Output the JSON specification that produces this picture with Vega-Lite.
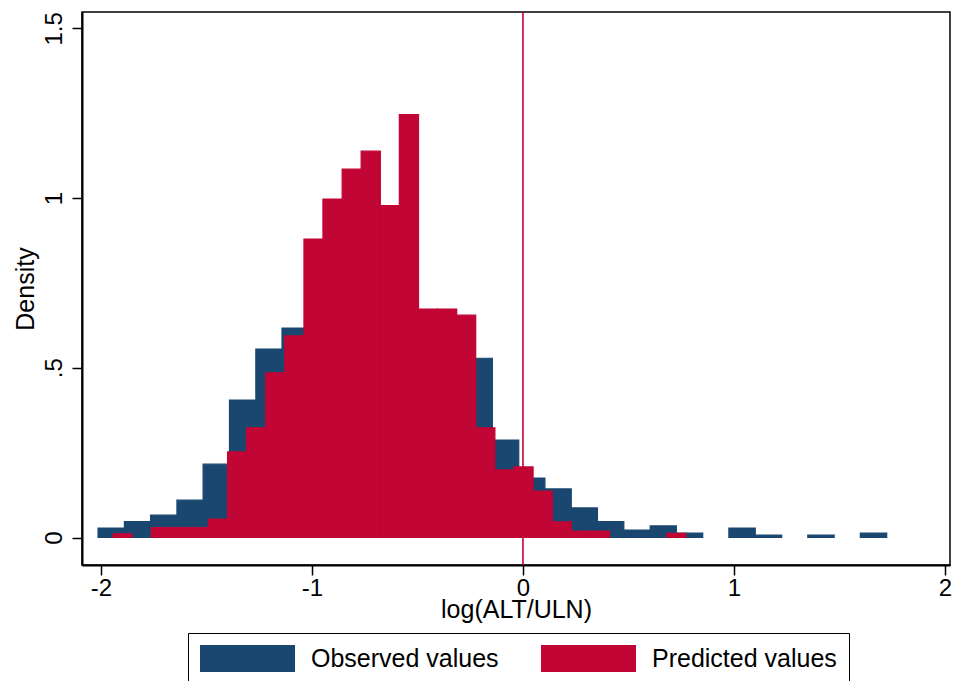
{
  "$schema": "https://vega.github.io/schema/vega-lite/v6.json",
  "width": 868,
  "height": 553,
  "autosize": {"type": "none"},
  "padding": {"left": 82, "top": 12, "right": 4, "bottom": 116},
  "background": "white",
  "config": {
    "font": "Liberation Sans",
    "view": {"stroke": "black", "strokeWidth": 1.5},
    "axis": {
      "grid": false,
      "domainColor": "black",
      "domainWidth": 2,
      "tickColor": "black",
      "tickWidth": 1.5,
      "tickSize": 10,
      "labelColor": "black",
      "labelFontSize": 24,
      "labelOverlap": false,
      "labelFlush": false,
      "titleColor": "black",
      "titleFontSize": 25,
      "titleFontWeight": "normal"
    }
  },
  "datasets": {
    "bins": [
      {"series": "Observed values", "bin_start": -2.014, "bin_end": -1.889, "density": 0.028},
      {"series": "Observed values", "bin_start": -1.889, "bin_end": -1.765, "density": 0.047},
      {"series": "Observed values", "bin_start": -1.765, "bin_end": -1.640, "density": 0.066},
      {"series": "Observed values", "bin_start": -1.640, "bin_end": -1.516, "density": 0.110},
      {"series": "Observed values", "bin_start": -1.516, "bin_end": -1.391, "density": 0.216},
      {"series": "Observed values", "bin_start": -1.391, "bin_end": -1.266, "density": 0.405},
      {"series": "Observed values", "bin_start": -1.266, "bin_end": -1.142, "density": 0.555},
      {"series": "Observed values", "bin_start": -1.142, "bin_end": -1.017, "density": 0.617},
      {"series": "Observed values", "bin_start": -1.017, "bin_end": -0.893, "density": 0.80},
      {"series": "Observed values", "bin_start": -0.893, "bin_end": -0.768, "density": 0.94},
      {"series": "Observed values", "bin_start": -0.768, "bin_end": -0.643, "density": 0.90},
      {"series": "Observed values", "bin_start": -0.643, "bin_end": -0.519, "density": 0.87},
      {"series": "Observed values", "bin_start": -0.519, "bin_end": -0.394, "density": 0.64},
      {"series": "Observed values", "bin_start": -0.394, "bin_end": -0.270, "density": 0.60},
      {"series": "Observed values", "bin_start": -0.270, "bin_end": -0.145, "density": 0.528},
      {"series": "Observed values", "bin_start": -0.145, "bin_end": -0.020, "density": 0.287},
      {"series": "Observed values", "bin_start": -0.020, "bin_end": 0.104, "density": 0.175},
      {"series": "Observed values", "bin_start": 0.104, "bin_end": 0.229, "density": 0.143},
      {"series": "Observed values", "bin_start": 0.229, "bin_end": 0.353, "density": 0.087},
      {"series": "Observed values", "bin_start": 0.353, "bin_end": 0.478, "density": 0.047},
      {"series": "Observed values", "bin_start": 0.478, "bin_end": 0.603, "density": 0.022},
      {"series": "Observed values", "bin_start": 0.603, "bin_end": 0.727, "density": 0.034},
      {"series": "Observed values", "bin_start": 0.727, "bin_end": 0.852, "density": 0.013},
      {"series": "Observed values", "bin_start": 0.976, "bin_end": 1.101, "density": 0.028},
      {"series": "Observed values", "bin_start": 1.101, "bin_end": 1.226, "density": 0.007},
      {"series": "Observed values", "bin_start": 1.350, "bin_end": 1.475, "density": 0.007},
      {"series": "Observed values", "bin_start": 1.599, "bin_end": 1.724, "density": 0.013},
      {"series": "Predicted values", "bin_start": -1.943, "bin_end": -1.853, "density": 0.011},
      {"series": "Predicted values", "bin_start": -1.762, "bin_end": -1.672, "density": 0.029},
      {"series": "Predicted values", "bin_start": -1.672, "bin_end": -1.581, "density": 0.029},
      {"series": "Predicted values", "bin_start": -1.581, "bin_end": -1.491, "density": 0.029},
      {"series": "Predicted values", "bin_start": -1.491, "bin_end": -1.400, "density": 0.054},
      {"series": "Predicted values", "bin_start": -1.400, "bin_end": -1.310, "density": 0.252},
      {"series": "Predicted values", "bin_start": -1.310, "bin_end": -1.219, "density": 0.323},
      {"series": "Predicted values", "bin_start": -1.219, "bin_end": -1.129, "density": 0.485},
      {"series": "Predicted values", "bin_start": -1.129, "bin_end": -1.038, "density": 0.594},
      {"series": "Predicted values", "bin_start": -1.038, "bin_end": -0.948, "density": 0.879},
      {"series": "Predicted values", "bin_start": -0.948, "bin_end": -0.857, "density": 0.997},
      {"series": "Predicted values", "bin_start": -0.857, "bin_end": -0.767, "density": 1.085},
      {"series": "Predicted values", "bin_start": -0.767, "bin_end": -0.676, "density": 1.138},
      {"series": "Predicted values", "bin_start": -0.676, "bin_end": -0.586, "density": 0.978},
      {"series": "Predicted values", "bin_start": -0.586, "bin_end": -0.495, "density": 1.246},
      {"series": "Predicted values", "bin_start": -0.495, "bin_end": -0.405, "density": 0.673},
      {"series": "Predicted values", "bin_start": -0.405, "bin_end": -0.314, "density": 0.673},
      {"series": "Predicted values", "bin_start": -0.314, "bin_end": -0.224, "density": 0.655},
      {"series": "Predicted values", "bin_start": -0.224, "bin_end": -0.133, "density": 0.323},
      {"series": "Predicted values", "bin_start": -0.133, "bin_end": -0.043, "density": 0.199},
      {"series": "Predicted values", "bin_start": -0.043, "bin_end": 0.048, "density": 0.208},
      {"series": "Predicted values", "bin_start": 0.048, "bin_end": 0.139, "density": 0.137},
      {"series": "Predicted values", "bin_start": 0.139, "bin_end": 0.229, "density": 0.046},
      {"series": "Predicted values", "bin_start": 0.229, "bin_end": 0.320, "density": 0.019},
      {"series": "Predicted values", "bin_start": 0.320, "bin_end": 0.410, "density": 0.019},
      {"series": "Predicted values", "bin_start": 0.682, "bin_end": 0.772, "density": 0.012}
    ],
    "cutoff": [{"at": 0}]
  },
  "layer": [
    {
      "data": {"name": "bins"},
      "mark": {"type": "rect", "strokeWidth": 1.2},
      "encoding": {
        "x": {
          "field": "bin_start",
          "type": "quantitative",
          "title": "log(ALT/ULN)",
          "scale": {"domain": [-2.09, 2.024], "nice": false, "zero": false},
          "axis": {
            "values": [-2, -1, 0, 1, 2],
            "labelExpr": "toString(datum.value)",
            "labelPadding": 1,
            "titlePadding": -3
          }
        },
        "x2": {"field": "bin_end"},
        "y": {
          "field": "density",
          "type": "quantitative",
          "title": "Density",
          "scale": {"domain": [-0.081, 1.548], "nice": false, "zero": false},
          "axis": {
            "values": [0, 0.5, 1, 1.5],
            "labelAngle": 270,
            "labelAlign": "center",
            "labelBaseline": "bottom",
            "labelPadding": 6,
            "labelExpr": "datum.value == 0.5 ? '.5' : toString(datum.value)",
            "titlePadding": 4
          }
        },
        "y2": {"datum": 0},
        "stroke": {
          "field": "series",
          "type": "nominal",
          "scale": {"domain": ["Observed values", "Predicted values"], "range": ["#1a476f", "#c10534"]},
          "legend": null
        },
        "color": {
          "field": "series",
          "type": "nominal",
          "scale": {"domain": ["Observed values", "Predicted values"], "range": ["#1a476f", "#c10534"]},
          "legend": {
            "orient": "none",
            "legendX": 106,
            "legendY": 621,
            "direction": "horizontal",
            "columns": 2,
            "title": null,
            "symbolType": "M-1,-0.285H1V0.285H-1Z",
            "symbolSize": 9025,
            "symbolStrokeWidth": 0,
            "symbolOpacity": 1,
            "clipHeight": 27,
            "labelFontSize": 25,
            "labelColor": "black",
            "labelLimit": 400,
            "labelOffset": 16,
            "columnPadding": 42,
            "padding": 12,
            "strokeColor": "black",
            "fillColor": "white"
          }
        }
      }
    },
    {
      "data": {"name": "cutoff"},
      "mark": {"type": "rule", "color": "#c10534", "strokeWidth": 1.6},
      "encoding": {"x": {"field": "at", "type": "quantitative"}}
    }
  ]
}
